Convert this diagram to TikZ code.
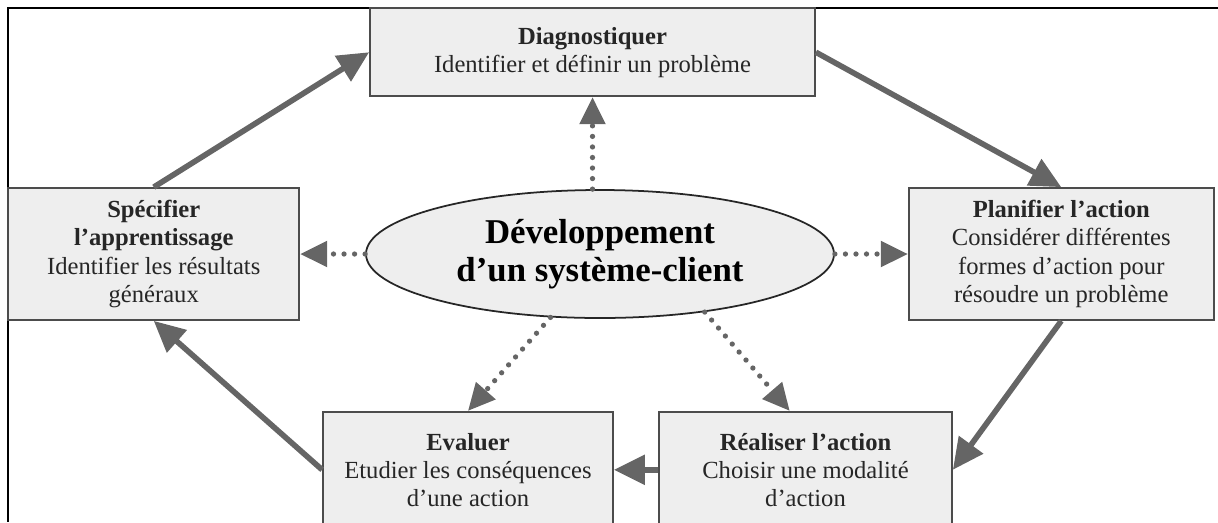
\documentclass[tikz,border=0pt]{standalone}
\usepackage{fontspec}
\setmainfont{Liberation Serif}
\usepackage{xcolor}
\usetikzlibrary{positioning,shapes.geometric,arrows.meta}

\definecolor{boxgray}{HTML}{EEEEEE}
\definecolor{arrowgray}{HTML}{656565}

\begin{document}
\begin{tikzpicture}[
  node distance=1.84cm and 1.3cm,
  box/.style={draw=black!70, line width=1pt, fill=boxgray, inner sep=2pt, align=center,
    font=\fontsize{14}{16}\selectfont, text=black!85},
  core/.style={ellipse, draw=black!85, line width=1pt, fill=boxgray, inner sep=0pt,
    minimum width=9.36cm, minimum height=2.56cm, align=center,
    font=\bfseries\fontsize{19.8}{21.5}\selectfont},
  arrow/.style={-{Triangle[length=0.62cm,width=0.58cm]}, line width=3.2pt, draw=arrowgray},
  dotarrow/.style={-{Triangle[length=0.54cm,width=0.5cm]}, line width=3pt, draw=arrowgray,
    line cap=round, dash pattern=on 0pt off 6pt}
]
\useasboundingbox (0,0) rectangle (24.36,-10.44);
\clip (0,0) rectangle (24.36,-10.44);

% Frame
\draw[line width=1.7pt] (24.36,-0.16) -- (0.16,-0.16) -- (0.16,-10.44);

% Centre
\node[core] (dev) at (12.0,-5.08) {Développement\\d’un système-client};

% Steps round the centre
\node[box, minimum width=8.9cm, minimum height=1.76cm, above=of dev, xshift=-0.15cm] (diag) {
  \textbf{Diagnostiquer}\\
  Identifier et définir un problème
};
\node[box, minimum width=5.82cm, minimum height=2.64cm, left=of dev] (spec) {
  \textbf{Spécifier}\\
  \textbf{l’apprentissage}\\
  Identifier les résultats\\
  généraux
};
\node[box, minimum width=6.1cm, minimum height=2.64cm, right=1.46cm of dev] (plan) {
  \textbf{Planifier l’action}\\
  Considérer différentes\\
  formes d’action pour\\
  résoudre un problème
};
\node[box, minimum width=5.8cm, minimum height=2.32cm, below=of dev, xshift=-2.64cm] (eval) {
  \textbf{Evaluer}\\
  Etudier les conséquences\\
  d’une action
};
\node[box, minimum width=5.86cm, minimum height=2.32cm, below=of dev, xshift=4.11cm] (real) {
  \textbf{Réaliser l’action}\\
  Choisir une modalité\\
  d’action
};

% Cycle
\draw[arrow] (spec.north) -- (diag.west);
\draw[arrow] (diag.east) -- (plan.north);
\draw[arrow] (plan.south) -- (real.east);
\draw[arrow] (real.west) -- (eval.east);
\draw[arrow] (eval.west) -- (spec.south);

% From the centre
\draw[dotarrow] (dev.north -| diag.south) -- (diag.south);
\draw[dotarrow] (dev.west) -- (spec.east);
\draw[dotarrow] (dev.east) -- (plan.west);
\draw[dotarrow] (dev.232) -- (eval.north);
\draw[dotarrow] (dev.331) -- (real.105);

\end{tikzpicture}
\end{document}
